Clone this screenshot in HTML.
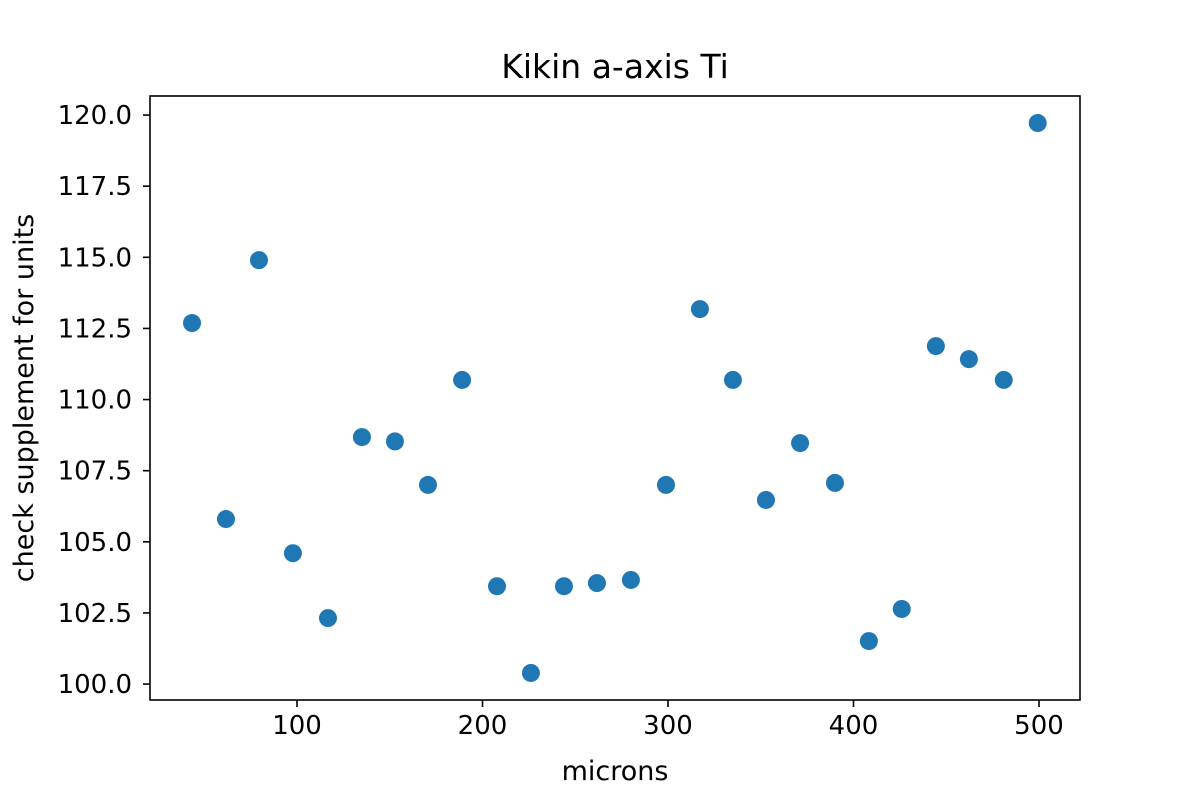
<!DOCTYPE html>
<html><head><meta charset="utf-8"><style>
body{margin:0;background:#fff;width:1200px;height:800px;overflow:hidden}
text{font-family:"DejaVu Sans","Liberation Sans",sans-serif;fill:#000}
</style></head><body>
<svg id="chart" width="1200" height="800">
<text x="615" y="78" font-size="33" text-anchor="middle">Kikin a-axis Ti</text>
<g id="marks"></g>
<g id="axes"></g>
<rect x="150" y="96" width="930" height="604" fill="none" stroke="#000" stroke-width="1.6"/>
<text x="615" y="780" font-size="27" text-anchor="middle">microns</text>
<text transform="translate(33,398) rotate(-90)" font-size="27" text-anchor="middle">check supplement for units</text>
</svg>
<script>
const xValues=[43.4,61.7,79.5,97.8,116.7,135,152.8,170.6,189,207.8,226.1,243.9,261.7,280,298.9,317.2,335,352.8,371.2,390,408.3,426,444.4,462.2,481,499.3];
const yValues=[112.69,105.80,114.90,104.60,102.32,108.68,108.53,107.0,110.69,103.44,100.39,103.44,103.55,103.66,107.0,113.18,110.69,106.47,108.47,107.07,101.51,102.64,111.88,111.42,110.69,119.72];
const xTicks=[100,200,300,400,500];
const yTicks=[100.0,102.5,105.0,107.5,110.0,112.5,115.0,117.5,120.0];
const L=150,R=1080,T=96,B=700,xMin=20.75,xMax=522.1,yMin=99.44,yMax=120.67;
function sx(v){return L+(v-xMin)/(xMax-xMin)*(R-L);}
function sy(v){return B-(v-yMin)/(yMax-yMin)*(B-T);}
const NS="http://www.w3.org/2000/svg";
const marks=document.getElementById('marks'),axes=document.getElementById('axes');
xValues.forEach((x,i)=>{
 const c=document.createElementNS(NS,'circle');
 c.setAttribute('cx',sx(x));c.setAttribute('cy',sy(yValues[i]));c.setAttribute('r',9);c.setAttribute('fill','#1f77b4');
 
 
 marks.appendChild(c);
});
xTicks.forEach(t=>{
 const x=sx(t);
 const l=document.createElementNS(NS,'line');
 l.setAttribute('x1',x);l.setAttribute('x2',x);l.setAttribute('y1',B);l.setAttribute('y2',B+7);l.setAttribute('stroke','#000');l.setAttribute('stroke-width','1.6');
 
 
 axes.appendChild(l);
 const tx=document.createElementNS(NS,'text');
 tx.setAttribute('x',x);tx.setAttribute('y',B+34);tx.setAttribute('font-size','26');tx.setAttribute('text-anchor','middle');tx.textContent=t;
 
 
 axes.appendChild(tx);
});
yTicks.forEach(t=>{
 const y=sy(t);
 const l=document.createElementNS(NS,'line');
 l.setAttribute('x1',L-7);l.setAttribute('x2',L);l.setAttribute('y1',y);l.setAttribute('y2',y);l.setAttribute('stroke','#000');l.setAttribute('stroke-width','1.6');
 
 
 axes.appendChild(l);
 const tx=document.createElementNS(NS,'text');
 tx.setAttribute('x',L-18);tx.setAttribute('y',y+9);tx.setAttribute('font-size','26');tx.setAttribute('text-anchor','end');tx.textContent=t.toFixed(1);
 
 
 axes.appendChild(tx);
});
</script>
</body></html>
